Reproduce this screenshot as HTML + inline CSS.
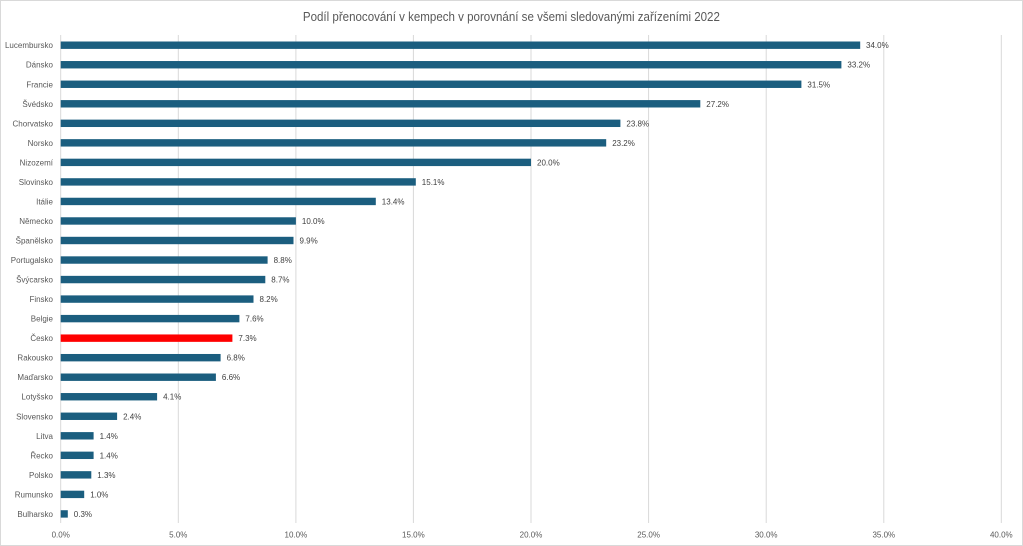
<!DOCTYPE html>
<html><head><meta charset="utf-8"><style>
html,body{margin:0;padding:0;background:#fff;}
svg{display:block;font-family:"Liberation Sans",sans-serif;}
.c{font-size:8px;fill:#595959;text-anchor:end;}
.d{font-size:8px;fill:#404040;}
.t{font-size:8px;fill:#595959;text-anchor:middle;}
</style></head><body>
<svg width="1023" height="546" viewBox="0 0 1023 546" xmlns="http://www.w3.org/2000/svg">
<rect x="0.5" y="0.5" width="1022" height="545" fill="#fff" stroke="#d9d9d9"/>
<text x="511.4" y="21" font-size="13" fill="#595959" text-anchor="middle" textLength="417" lengthAdjust="spacingAndGlyphs">Podíl přenocování v kempech v porovnání se všemi sledovanými zařízeními 2022</text>
<g stroke="#d9d9d9" stroke-width="1">
<line x1="60.7" y1="35" x2="60.7" y2="523"/>
<line x1="178.3" y1="35" x2="178.3" y2="523"/>
<line x1="295.9" y1="35" x2="295.9" y2="523"/>
<line x1="413.4" y1="35" x2="413.4" y2="523"/>
<line x1="531.0" y1="35" x2="531.0" y2="523"/>
<line x1="648.6" y1="35" x2="648.6" y2="523"/>
<line x1="766.2" y1="35" x2="766.2" y2="523"/>
<line x1="883.8" y1="35" x2="883.8" y2="523"/>
<line x1="1001.3" y1="35" x2="1001.3" y2="523"/>
</g>
<g fill="#1b5e7f">
<g transform="translate(0,45.2)"><rect x="60.7" y="-3.7" width="799.5" height="7.4"/><text class="c" x="53" y="3">Lucembursko</text><text class="d" x="866" y="3">34.0%</text></g>
<g transform="translate(0,64.73)"><rect x="60.7" y="-3.7" width="780.7" height="7.4"/><text class="c" x="53" y="3">Dánsko</text><text class="d" x="847.4" y="3">33.2%</text></g>
<g transform="translate(0,84.26)"><rect x="60.7" y="-3.7" width="740.7" height="7.4"/><text class="c" x="53" y="3">Francie</text><text class="d" x="807.4" y="3">31.5%</text></g>
<g transform="translate(0,103.79)"><rect x="60.7" y="-3.7" width="639.6" height="7.4"/><text class="c" x="53" y="3">Švédsko</text><text class="d" x="706.3" y="3">27.2%</text></g>
<g transform="translate(0,123.32)"><rect x="60.7" y="-3.7" width="559.7" height="7.4"/><text class="c" x="53" y="3">Chorvatsko</text><text class="d" x="626.4" y="3">23.8%</text></g>
<g transform="translate(0,142.85)"><rect x="60.7" y="-3.7" width="545.5" height="7.4"/><text class="c" x="53" y="3">Norsko</text><text class="d" x="612.2" y="3">23.2%</text></g>
<g transform="translate(0,162.38)"><rect x="60.7" y="-3.7" width="470.3" height="7.4"/><text class="c" x="53" y="3">Nizozemí</text><text class="d" x="537" y="3">20.0%</text></g>
<g transform="translate(0,181.91)"><rect x="60.7" y="-3.7" width="355.1" height="7.4"/><text class="c" x="53" y="3">Slovinsko</text><text class="d" x="421.8" y="3">15.1%</text></g>
<g transform="translate(0,201.44)"><rect x="60.7" y="-3.7" width="315.1" height="7.4"/><text class="c" x="53" y="3">Itálie</text><text class="d" x="381.8" y="3">13.4%</text></g>
<g transform="translate(0,220.97)"><rect x="60.7" y="-3.7" width="235.2" height="7.4"/><text class="c" x="53" y="3">Německo</text><text class="d" x="301.9" y="3">10.0%</text></g>
<g transform="translate(0,240.5)"><rect x="60.7" y="-3.7" width="232.8" height="7.4"/><text class="c" x="53" y="3">Španělsko</text><text class="d" x="299.5" y="3">9.9%</text></g>
<g transform="translate(0,260.03)"><rect x="60.7" y="-3.7" width="206.9" height="7.4"/><text class="c" x="53" y="3">Portugalsko</text><text class="d" x="273.6" y="3">8.8%</text></g>
<g transform="translate(0,279.56)"><rect x="60.7" y="-3.7" width="204.6" height="7.4"/><text class="c" x="53" y="3">Švýcarsko</text><text class="d" x="271.3" y="3">8.7%</text></g>
<g transform="translate(0,299.09)"><rect x="60.7" y="-3.7" width="192.8" height="7.4"/><text class="c" x="53" y="3">Finsko</text><text class="d" x="259.5" y="3">8.2%</text></g>
<g transform="translate(0,318.62)"><rect x="60.7" y="-3.7" width="178.7" height="7.4"/><text class="c" x="53" y="3">Belgie</text><text class="d" x="245.4" y="3">7.6%</text></g>
<g transform="translate(0,338.15)"><rect x="60.7" y="-3.7" width="171.7" height="7.4" fill="#ff0000"/><text class="c" x="53" y="3">Česko</text><text class="d" x="238.4" y="3">7.3%</text></g>
<g transform="translate(0,357.68)"><rect x="60.7" y="-3.7" width="159.9" height="7.4"/><text class="c" x="53" y="3">Rakousko</text><text class="d" x="226.6" y="3">6.8%</text></g>
<g transform="translate(0,377.21)"><rect x="60.7" y="-3.7" width="155.2" height="7.4"/><text class="c" x="53" y="3">Maďarsko</text><text class="d" x="221.9" y="3">6.6%</text></g>
<g transform="translate(0,396.74)"><rect x="60.7" y="-3.7" width="96.4" height="7.4"/><text class="c" x="53" y="3">Lotyšsko</text><text class="d" x="163.1" y="3">4.1%</text></g>
<g transform="translate(0,416.27)"><rect x="60.7" y="-3.7" width="56.4" height="7.4"/><text class="c" x="53" y="3">Slovensko</text><text class="d" x="123.1" y="3">2.4%</text></g>
<g transform="translate(0,435.8)"><rect x="60.7" y="-3.7" width="32.9" height="7.4"/><text class="c" x="53" y="3">Litva</text><text class="d" x="99.6" y="3">1.4%</text></g>
<g transform="translate(0,455.33)"><rect x="60.7" y="-3.7" width="32.9" height="7.4"/><text class="c" x="53" y="3">Řecko</text><text class="d" x="99.6" y="3">1.4%</text></g>
<g transform="translate(0,474.86)"><rect x="60.7" y="-3.7" width="30.6" height="7.4"/><text class="c" x="53" y="3">Polsko</text><text class="d" x="97.3" y="3">1.3%</text></g>
<g transform="translate(0,494.39)"><rect x="60.7" y="-3.7" width="23.5" height="7.4"/><text class="c" x="53" y="3">Rumunsko</text><text class="d" x="90.2" y="3">1.0%</text></g>
<g transform="translate(0,513.92)"><rect x="60.7" y="-3.7" width="7.1" height="7.4"/><text class="c" x="53" y="3">Bulharsko</text><text class="d" x="73.8" y="3">0.3%</text></g>
</g>
<g>
<text class="t" x="60.7" y="537.5">0.0%</text>
<text class="t" x="178.3" y="537.5">5.0%</text>
<text class="t" x="295.9" y="537.5">10.0%</text>
<text class="t" x="413.4" y="537.5">15.0%</text>
<text class="t" x="531.0" y="537.5">20.0%</text>
<text class="t" x="648.6" y="537.5">25.0%</text>
<text class="t" x="766.2" y="537.5">30.0%</text>
<text class="t" x="883.8" y="537.5">35.0%</text>
<text class="t" x="1001.3" y="537.5">40.0%</text>
</g>
</svg>
</body></html>
